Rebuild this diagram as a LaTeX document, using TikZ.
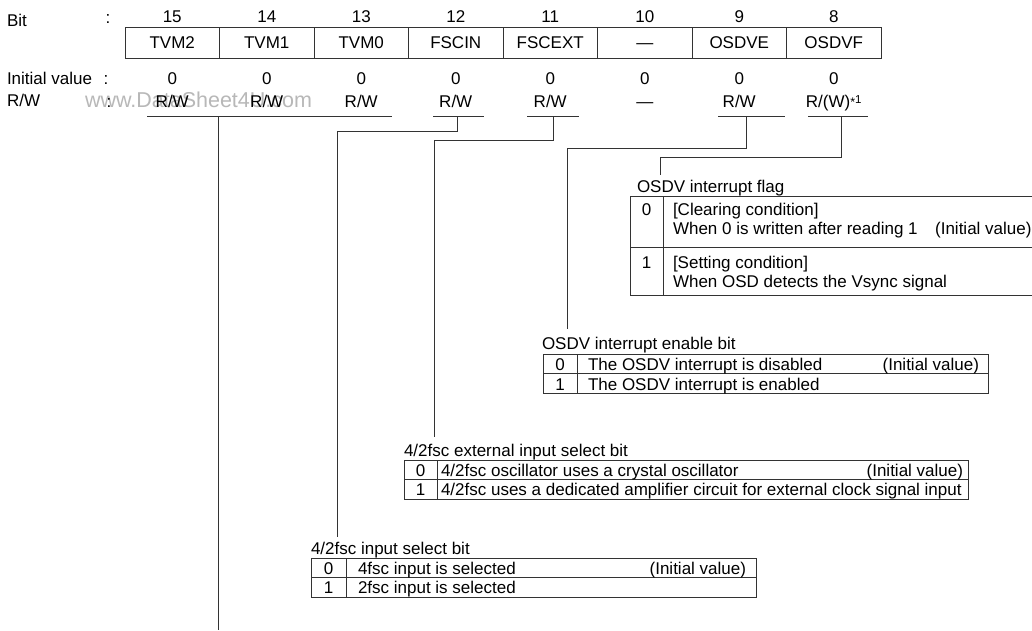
\documentclass[tikz,border=0pt]{standalone}
\usepackage{fontspec}
\setmainfont{Liberation Sans}
\begin{document}
\begin{tikzpicture}[x=1pt,y=-1pt,
  every node/.style={inner sep=0pt, outer sep=0pt, text height=12pt, text depth=0pt,
    font=\fontsize{17}{20}\selectfont},
  ln/.style={line width=0.85pt, draw=black!80},
  cell/.style={draw=black!80, line width=0.85pt, minimum width=94.5pt, minimum height=31pt},
  lbl/.style={anchor=west},
  rgt/.style={anchor=east},
  wmark/.style={text=black!28, font=\fontsize{21.5}{24}\selectfont, anchor=west, text height=15pt}]
\useasboundingbox[fill=white] (0,0) rectangle (1032,630);

% watermark
\node[wmark] (wm) at (85,100) {www.DataSheet4U.com};

% row labels
\node[lbl] (lbit) at (7,20) {Bit};
\node (cbit) at (108,17) {:};
\node[lbl] (linit) at (7,78) {Initial value};
\node (cinit) at (106,78) {:};
\node[lbl] (lrw) at (7,100) {R/W};
\node (crw) at (109,101) {:};

% register cells, bit numbers, initial values, R/W
\foreach \b/\nm/\rw [count=\i from 0] in {15/TVM2/R\slash W,14/TVM1/R\slash W,13/TVM0/R\slash W,12/FSCIN/R\slash W,11/FSCEXT/R\slash W,10/—/—,9/OSDVE/R\slash W}{
  \pgfmathsetmacro\cx{125+94.5*\i+47.25}
  \node[cell] (r\b) at (\cx,42.5) {\nm};
  \node (n\b) at (\cx,16) {\b};
  \node (v\b) at (\cx,78) {0};
  \node (w\b) at (\cx,101) {\rw};
}
\node[cell] (r8) at (833.75,42.5) {OSDVF};
\node (n8) at (833.75,16) {8};
\node (v8) at (833.75,78) {0};
\node (w8) at (833.75,101) {R/(W)\raisebox{0.5pt}{\fontsize{12.5}{12}\selectfont*}\raisebox{4pt}{\fontsize{11.5}{11}\selectfont 1}};

% underlines and leader lines
\coordinate (uTa) at (147,116); \coordinate (uTb) at (392,116);
\coordinate (uT) at (218,116); \coordinate (eT) at (218,630);
\draw[ln] (uTa) -- (uTb);
\draw[ln] (uT) -- (eT);

\coordinate (u12a) at (433,116); \coordinate (u12b) at (484,116);
\coordinate (u12) at (457,116); \coordinate (k12) at (337,131); \coordinate (e12) at (337,537);
\draw[ln] (u12a) -- (u12b);
\draw[ln] (u12) |- (k12) -- (e12);

\coordinate (u11a) at (527,116); \coordinate (u11b) at (579,116);
\coordinate (u11) at (553,116); \coordinate (k11) at (434,140); \coordinate (e11) at (434,437);
\draw[ln] (u11a) -- (u11b);
\draw[ln] (u11) |- (k11) -- (e11);

\coordinate (u9a) at (718,116); \coordinate (u9b) at (785,116);
\coordinate (u9) at (746,116); \coordinate (k9) at (567,148); \coordinate (e9) at (567,329);
\draw[ln] (u9a) -- (u9b);
\draw[ln] (u9) |- (k9) -- (e9);

\coordinate (u8a) at (808,116); \coordinate (u8b) at (868,116);
\coordinate (u8) at (841,116); \coordinate (k8) at (660,157); \coordinate (e8) at (660,175);
\draw[ln] (u8a) -- (u8b);
\draw[ln] (u8) |- (k8) -- (e8);

% ---- OSDV interrupt flag table
\node[lbl] (tf) at (637,186) {OSDV interrupt flag};
\draw[ln] (1032,196) -- (630,196) -- (630,295) -- (1032,295);
\draw[ln] (630,247) -- (1032,247);
\draw[ln] (663,196) -- (663,295);
\node (f0) at (646.5,209) {0};
\node[lbl] (f0a) at (673,209) {[Clearing condition]};
\node[lbl] (f0b) at (673,228) {When 0 is written after reading 1};
\node[rgt] (f0c) at (1031.5,228) {(Initial value)};
\node (f1) at (646.5,262) {1};
\node[lbl] (f1a) at (673,262) {[Setting condition]};
\node[lbl] (f1b) at (673,281) {When OSD detects the Vsync signal};

% ---- OSDV interrupt enable bit table
\node[lbl] (te) at (542,343) {OSDV interrupt enable bit};
\draw[ln] (543,354) rectangle (988,393);
\draw[ln] (543,373.5) -- (988,373.5);
\draw[ln] (577,354) -- (577,393);
\node (e0n) at (560,364) {0};
\node[lbl] (e0t) at (588,364) {The OSDV interrupt is disabled};
\node[rgt] (e0i) at (979,364) {(Initial value)};
\node (e1n) at (560,384) {1};
\node[lbl] (e1t) at (588,384) {The OSDV interrupt is enabled};

% ---- 4/2fsc external input select bit table
\node[lbl] (tx) at (404,450) {4/2fsc external input select bit};
\draw[ln] (404,460) rectangle (968,499);
\draw[ln] (404,479.5) -- (968,479.5);
\draw[ln] (437,460) -- (437,499);
\node (x0n) at (420.5,470) {0};
\node[lbl] (x0t) at (441,470) {4/2fsc oscillator uses a crystal oscillator};
\node[rgt] (x0i) at (963,470) {(Initial value)};
\node (x1n) at (420.5,489) {1};
\node[lbl] (x1t) at (441,489) {4/2fsc uses a dedicated amplifier circuit for external clock signal input};

% ---- 4/2fsc input select bit table
\node[lbl] (ti) at (311,548) {4/2fsc input select bit};
\draw[ln] (311,558) rectangle (756,597);
\draw[ln] (311,577.5) -- (756,577.5);
\draw[ln] (346,558) -- (346,597);
\node (i0n) at (328.5,568) {0};
\node[lbl] (i0t) at (358,568) {4fsc input is selected};
\node[rgt] (i0i) at (746,568) {(Initial value)};
\node (i1n) at (328.5,587) {1};
\node[lbl] (i1t) at (358,587) {2fsc input is selected};
\end{tikzpicture}
\end{document}
